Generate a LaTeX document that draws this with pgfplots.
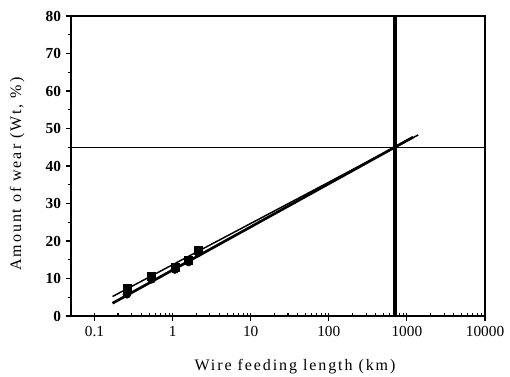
\documentclass[border=0pt]{standalone}
\usepackage{pgfplots}
\pgfplotsset{compat=1.18}
\usepackage{fontspec}
\setmainfont{Liberation Serif}
\newfontfamily\labelfont[LetterSpace=12]{Liberation Serif}
\begin{document}
\begin{tikzpicture}
\begin{axis}[
  scale only axis, width=310.5pt, height=225pt,
  xmode=log, xmin=0.05, xmax=10000,
  ymin=0, ymax=80,
  xtick={0.1,1,10,100,1000,10000},
  xticklabels={0.1,1,10,100,1000,10000},
  ytick={0,10,...,80},
  minor ytick={5,15,...,75},
  xtick pos=bottom, ytick pos=left,
  tick align=outside,
  major tick length=4pt, minor tick length=2.5pt,
  minor x tick style={yshift=2.5pt},
  axis line style={line width=1pt},
  tick style={black, line width=0.8pt},
  xticklabel style={font=\fontsize{11.5}{13}\selectfont},
  yticklabel style={font=\bfseries\fontsize{11.5}{13}\selectfont},
  /pgf/number format/assume math mode=true,
  xlabel={Wire feeding length (km)},
  ylabel={Amount of wear (Wt, \%)},
  label style={font=\labelfont\fontsize{12}{14}\selectfont},
  xlabel style={at={(axis description cs:0.541,-0.167)}, anchor=center},
  ylabel style={at={(axis description cs:-0.130,0.473)}, anchor=center},
]
% reference lines
\addplot[black, line width=0.8pt] coordinates {(0.05,45) (10000,45)};
\addplot[black, line width=3pt] coordinates {(700,0) (700,80)};
% regression lines
\addplot[black, line width=1.1pt] coordinates {(0.17,5.2) (1400,48.3)};
\addplot[black, line width=2pt] coordinates {(0.17,3.4) (1200,47.7)};
% data points
\addplot[only marks, mark=square*, mark size=3pt, black] coordinates {
(0.26,7.3) (0.54,10.6) (1.07,13.1) (1.6,14.9) (2.13,17.6)};
\addplot[only marks, mark=*, mark size=3pt, black] coordinates {
(0.26,5.8) (0.54,9.8) (1.07,12.4) (1.6,14.4) (2.13,16.9)};
\end{axis}
\pgfresetboundingbox
\path[use as bounding box] (-53.25pt,-45pt) rectangle (329.25pt,237pt);
\end{tikzpicture}
\end{document}
